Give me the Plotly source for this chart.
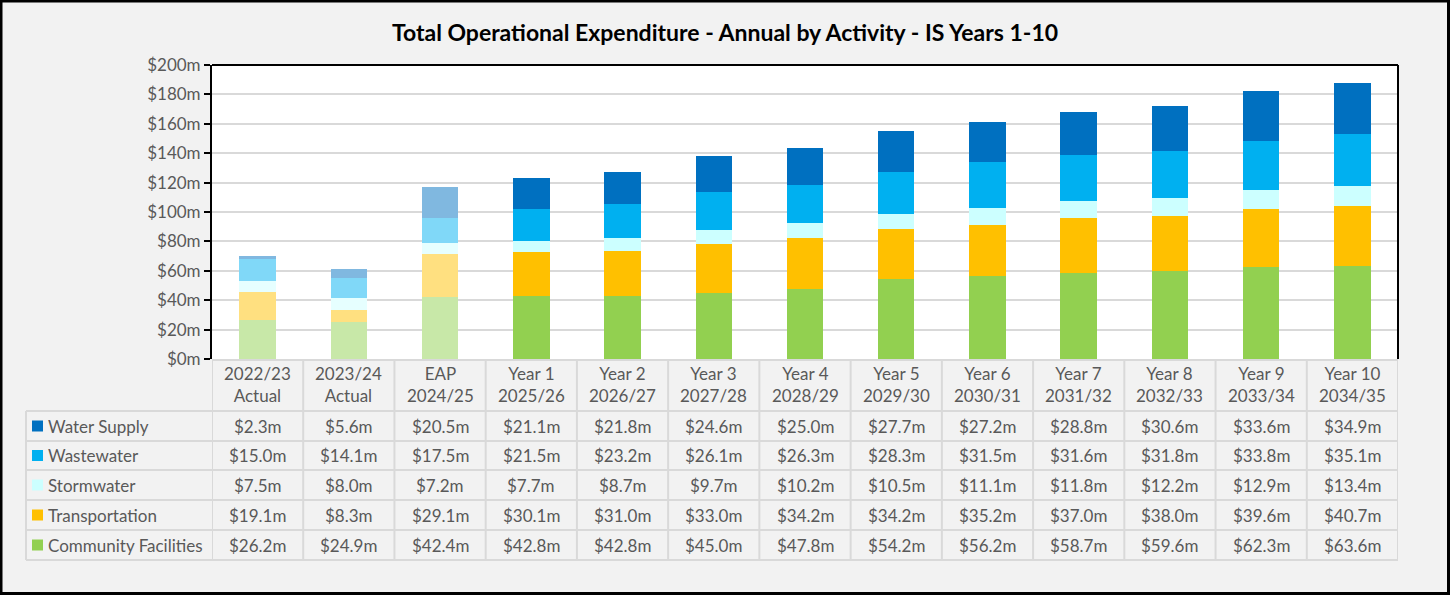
import plotly.graph_objects as go

# ---------------- data ----------------
categories = ["2022/23<br>Actual", "2023/24<br>Actual", "EAP<br>2024/25",
              "Year 1<br>2025/26", "Year 2<br>2026/27", "Year 3<br>2027/28",
              "Year 4<br>2028/29", "Year 5<br>2029/30", "Year 6<br>2030/31",
              "Year 7<br>2031/32", "Year 8<br>2032/33", "Year 9<br>2033/34",
              "Year 10<br>2034/35"]
water_supply = [2.3, 5.6, 20.5, 21.1, 21.8, 24.6, 25.0, 27.7, 27.2, 28.8, 30.6, 33.6, 34.9]
wastewater = [15.0, 14.1, 17.5, 21.5, 23.2, 26.1, 26.3, 28.3, 31.5, 31.6, 31.8, 33.8, 35.1]
stormwater = [7.5, 8.0, 7.2, 7.7, 8.7, 9.7, 10.2, 10.5, 11.1, 11.8, 12.2, 12.9, 13.4]
transportation = [19.1, 8.3, 29.1, 30.1, 31.0, 33.0, 34.2, 34.2, 35.2, 37.0, 38.0, 39.6, 40.7]
community = [26.2, 24.9, 42.4, 42.8, 42.8, 45.0, 47.8, 54.2, 56.2, 58.7, 59.6, 62.3, 63.6]
n_light = 3  # actual / EAP columns drawn in lighter shades

series = [  # bottom to top
    ("Community Facilities", community, "#92d050"),
    ("Transportation", transportation, "#ffc000"),
    ("Stormwater", stormwater, "#ccffff"),
    ("Wastewater", wastewater, "#00b0f0"),
    ("Water Supply", water_supply, "#0070c0"),
]
table_order = ["Water Supply", "Wastewater", "Stormwater", "Transportation", "Community Facilities"]

# ---------------- layout constants (pixels) ----------------
W, H = 1450, 595
L, R, T, B = 212, 1398, 65, 359
PW, PH = R - L, B - T
FONT = "Lato"
TXT = "#595959"
GRID = "#d9d9d9"


def px(x):
    return (x - L) / PW


def py(y):
    return (B - y) / PH


def lighten(hexc, f=0.5):
    hexc = hexc.lstrip("#")
    r, g, b = (int(hexc[i:i + 2], 16) for i in (0, 2, 4))
    r, g, b = (round(c + (255 - c) * f) for c in (r, g, b))
    return f"#{r:02x}{g:02x}{b:02x}"


fig = go.Figure()
for name, vals, col in series:
    colors = [lighten(col) if i < n_light else col for i in range(len(vals))]
    fig.add_trace(go.Bar(x=categories, y=vals, name=name,
                         marker=dict(color=colors, line=dict(width=0)),
                         width=0.4, showlegend=False))

shapes = []
annotations = []

# plot-area top and right borders
shapes.append(dict(type="line", xref="paper", yref="paper", x0=0, x1=1, y0=1, y1=1,
                   line=dict(color="black", width=2)))
shapes.append(dict(type="line", xref="paper", yref="paper", x0=1, x1=1, y0=0, y1=1,
                   line=dict(color="black", width=2)))

# table grid
rows_y = [411, 441, 470, 500, 530, 560]
n = len(categories)
for i in range(n + 1):
    shapes.append(dict(type="line", xref="x", yref="paper", x0=i - 0.5, x1=i - 0.5,
                       y0=py(B), y1=py(rows_y[-1]), line=dict(color=GRID, width=2)))
shapes.append(dict(type="line", xref="paper", yref="paper", x0=px(26), x1=px(26),
                   y0=py(rows_y[0]), y1=py(rows_y[-1]), line=dict(color=GRID, width=2)))
shapes.append(dict(type="line", xref="paper", yref="paper", x0=0, x1=1,
                   y0=py(B + 1), y1=py(B + 1), line=dict(color=GRID, width=2)))
for ry in rows_y:
    shapes.append(dict(type="line", xref="paper", yref="paper", x0=px(26), x1=1,
                       y0=py(ry), y1=py(ry), line=dict(color=GRID, width=2)))

# header labels
for i, c in enumerate(categories):
    annotations.append(dict(x=i, y=py(384), xref="x", yref="paper", text=c,
                            showarrow=False, font=dict(family=FONT, size=17, color=TXT),
                            xanchor="center", yanchor="middle"))

# table rows
lookup = {name: (vals, col) for name, vals, col in series}
for r, name in enumerate(table_order):
    vals, col = lookup[name]
    cy = (rows_y[r] + rows_y[r + 1]) / 2
    shapes.append(dict(type="rect", xref="paper", yref="paper",
                       x0=px(32), x1=px(43), y0=py(cy + 5.5), y1=py(cy - 5.5),
                       fillcolor=col, line=dict(width=0)))
    annotations.append(dict(x=px(46), y=py(cy), xref="paper", yref="paper", text=name,
                            showarrow=False, font=dict(family=FONT, size=17, color=TXT),
                            xanchor="left", yanchor="middle"))
    for i, v in enumerate(vals):
        annotations.append(dict(x=i, y=py(cy), xref="x", yref="paper", text=f"${v:.1f}m",
                                showarrow=False, font=dict(family=FONT, size=17, color=TXT),
                                xanchor="center", yanchor="middle"))

# outer border
shapes.append(dict(type="rect", xref="paper", yref="paper",
                   x0=px(1), x1=px(W - 1.5), y0=py(H - 1.5), y1=py(1),
                   line=dict(color="black", width=3), fillcolor="rgba(0,0,0,0)"))

fig.update_layout(
    width=W, height=H,
    margin=dict(l=L, r=W - R, t=T, b=H - B, pad=0),
    paper_bgcolor="#f2f2f2", plot_bgcolor="white",
    barmode="stack", bargap=0.6,
    title=dict(text="<b>Total Operational Expenditure - Annual by Activity - IS Years 1-10</b>",
               x=0.5, xanchor="center", y=1 - 33 / H, yanchor="middle",
               font=dict(family=FONT, size=23, color="black")),
    xaxis=dict(type="category", range=[-0.5, n - 0.5], showticklabels=False,
               showgrid=False, zeroline=False, showline=False, ticks=""),
    yaxis=dict(range=[0, 200], dtick=20, tickprefix="$", ticksuffix="m",
               showgrid=True, gridcolor=GRID, gridwidth=2, zeroline=False,
               showline=True, linecolor="black", linewidth=2,
               ticks="outside", ticklen=6, tickcolor="black", tickwidth=2,
               tickfont=dict(family=FONT, size=17, color=TXT)),
    shapes=shapes, annotations=annotations,
)

fig.write_html("out.html", config={"displayModeBar": False},
               post_script="document.body.style.margin='0px';document.body.style.overflow='hidden';")
